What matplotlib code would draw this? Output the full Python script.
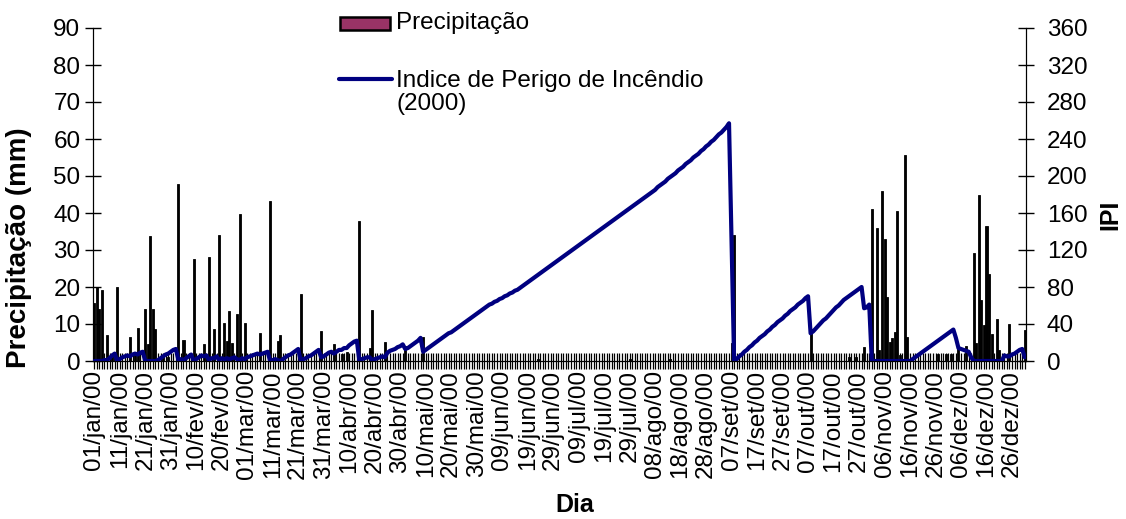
import matplotlib
matplotlib.use('Agg')
import matplotlib.pyplot as plt
from matplotlib.patches import Rectangle
from matplotlib.lines import Line2D
import numpy as np

plt.rcParams['font.family'] = ['Liberation Sans', 'DejaVu Sans']

# ---------------- data ----------------
tick_labels = ['01/jan/00', '11/jan/00', '21/jan/00', '31/jan/00', '10/fev/00', '20/fev/00',
               '01/mar/00', '11/mar/00', '21/mar/00', '31/mar/00', '10/abr/00', '20/abr/00',
               '30/abr/00', '10/mai/00', '20/mai/00', '30/mai/00', '09/jun/00', '19/jun/00',
               '29/jun/00', '09/jul/00', '19/jul/00', '29/jul/00', '08/ago/00', '18/ago/00',
               '28/ago/00', '07/set/00', '17/set/00', '27/set/00', '07/out/00', '17/out/00',
               '27/out/00', '06/nov/00', '16/nov/00', '26/nov/00', '06/dez/00', '16/dez/00',
               '26/dez/00']

# rainy days (day index from 01/jan/00) and precipitation (mm); other days = 0
rain_day = [0, 1, 2, 3, 5, 7, 8, 9, 14, 16, 17, 20, 21, 22, 23, 24, 27, 29, 33, 35,
            39, 43, 45, 47, 49, 51, 52, 53, 54, 56, 57, 59, 65, 69, 72, 73, 81, 89, 94, 97,
            99, 104, 108, 109, 114, 122, 129, 174, 210, 226, 250, 251, 281, 296, 299, 302,
            305, 307, 308, 309, 310, 311, 312, 313, 314, 315, 316, 318, 319, 331, 334, 336,
            339, 342, 345, 346, 347, 348, 349, 350, 351, 352, 354, 355, 359, 365]
rain_mm = [15.8, 20, 14, 19.2, 7, 2, 2, 20, 6.4, 2, 8.9, 14, 4.7, 33.8, 14, 8.6, 1, 1, 47.8, 5.7,
           27.6, 4.7, 28, 8.6, 34, 10.4, 5.5, 13.6, 5, 12.7, 39.7, 10.4, 7.5, 43.3, 5.5, 6.9, 18, 8.2, 4.5, 2,
           2.5, 37.9, 3.6, 13.8, 5.2, 3, 6.6, 0.5, 0.5, 0.5, 5, 34, 7.5, 1, 1, 3.7,
           41, 36, 3, 46, 33, 17.2, 5.2, 6.1, 7.9, 40.5, 1.5, 55.7, 6.6, 1.9, 1.9, 2,
           4, 4, 29.3, 5, 45, 16.5, 9.7, 36.5, 23.4, 7.4, 11.4, 2.9, 9.9, 8.4]

# Indice de Perigo de Incendio, one value per day
ipi = [0, 0, 0, 0, 1, 1, 3, 6, 8, 0,
       2, 4, 5, 6, 5, 7, 8, 7, 9, 10,
       0, 0, 0, 0, 0, 1, 3, 5, 7, 8,
       10, 12, 13, 1, 2, 1, 3, 5, 7, 0,
       2, 4, 6, 5, 6, 1, 3, 3, 5, 1,
       3, 2, 3, 2, 3, 4, 2, 1, 3, 2,
       4, 5, 6, 7, 8, 7, 8, 9, 10, 0,
       1, 2, 1, 0, 2, 4, 6, 7, 9, 11,
       13, 0, 2, 3, 5, 6, 8, 10, 12, 4,
       5, 7, 9, 10, 8, 10, 12, 12, 14, 14,
       17, 19, 21, 22, 0, 2, 3, 4, 4, 1,
       2, 3, 4, 5, 4, 9, 11, 12, 13, 15,
       16, 18, 13, 14, 16, 18, 20, 22, 25, 10,
       12, 14, 16, 18, 20, 22, 24, 26, 28, 30,
       31, 33, 35, 37, 39, 41, 43, 45, 47, 49,
       51, 53, 55, 57, 59, 61, 62, 64, 65, 67,
       68, 70, 71, 73, 74, 76, 77, 79, 81, 83,
       85, 87, 89, 91, 93, 95, 97, 99, 101, 103,
       105, 107, 109, 111, 113, 115, 117, 119, 121, 123,
       125, 127, 129, 131, 133, 135, 137, 139, 141, 143,
       145, 147, 149, 151, 153, 155, 157, 159, 161, 163,
       165, 167, 169, 171, 173, 175, 177, 179, 181, 183,
       185, 188, 190, 192, 194, 197, 199, 201, 203, 206,
       208, 210, 213, 215, 217, 220, 222, 224, 227, 229,
       232, 234, 237, 239, 242, 245, 247, 250, 253, 257,
       130, 0, 2, 5, 7, 10, 12, 15, 17, 20,
       22, 25, 27, 29, 32, 34, 37, 39, 42, 44,
       46, 49, 51, 54, 56, 58, 61, 63, 65, 68,
       70, 30, 32, 35, 38, 41, 44, 46, 49, 52,
       55, 58, 60, 63, 66, 68, 70, 72, 74, 76,
       78, 80, 57, 58, 61, 0, 0, 0, 0, 0,
       0, 0, 0, 0, 0, 0, 0, 0, 0, 0,
       0, 2, 4, 6, 8, 10, 12, 14, 16, 18,
       20, 22, 24, 26, 28, 30, 32, 34, 25, 14,
       13, 12, 11, 10, 4, 0, 0, 0, 0, 0,
       0, 0, 0, 0, 0, 0, 0, 6, 5, 5,
       7, 8, 10, 12, 13, 4]

# ---------------- figure ----------------
W, H = 1126, 519
n_days = len(ipi)
days = np.arange(n_days)
precip = np.zeros(n_days)
precip[rain_day] = rain_mm

fig = plt.figure(figsize=(W / 100, H / 100), dpi=100)
L, R, T, B = 93, 1026, 28, 361
ax = fig.add_axes([L / W, 1 - B / H, (R - L) / W, (B - T) / H])

ax.bar(days, precip, width=0.8, color='black', edgecolor='black', linewidth=0.6, zorder=2)
ax.set_xlim(-0.5, n_days - 0.5)
ax.set_ylim(0, 90)
ax.set_yticks(range(0, 91, 10))
ax.set_xticks(np.arange(0, n_days, 10))
ax.set_xticklabels(tick_labels, rotation=90)
ax.set_xticks(days, minor=True)
ax.tick_params(axis='x', which='both', direction='inout', length=11, width=0.9,
               labelsize=17.5, pad=1)
ax.tick_params(axis='y', direction='inout', length=12, width=1, labelsize=17.5, pad=3)
ax.spines['top'].set_visible(False)

ax2 = ax.twinx()
ax2.plot(days, ipi, color='#000080', lw=3.0, solid_joinstyle='round',
         solid_capstyle='round', zorder=3)
ax2.set_ylim(0, 360)
ax2.set_yticks(range(0, 361, 40))
ax2.tick_params(axis='y', direction='inout', length=12, width=1, labelsize=17.5, pad=9)
ax2.spines['top'].set_visible(False)

# axis titles
fig.text(19 / W, 1 - 248 / H, 'Precipitação (mm)', rotation=90, ha='center', va='center',
         fontsize=20, fontweight='bold')
fig.text(1110 / W, 1 - 215 / H, 'IPI', rotation=90, ha='center', va='center',
         fontsize=18, fontweight='bold')
fig.text(575 / W, 1 - 505 / H, 'Dia', ha='center', va='center',
         fontsize=18, fontweight='bold')

# legend (drawn manually to match the original placement)
fig.patches.append(Rectangle((340 / W, 1 - 30 / H), 50 / W, 13 / H, transform=fig.transFigure,
                             facecolor='#993366', edgecolor='black', linewidth=1.8))
fig.text(396 / W, 1 - 23 / H, 'Precipitação', ha='left', va='center', fontsize=17.5)
fig.lines.append(Line2D([339 / W, 392 / W], [1 - 79 / H, 1 - 79 / H], transform=fig.transFigure,
                        color='#000080', lw=3.0, solid_capstyle='round'))
fig.text(396 / W, 1 - 92.5 / H, 'Indice de Perigo de Incêndio\n(2000)', ha='left', va='center',
         fontsize=17.5, linespacing=1.05)

fig.savefig('out.png', dpi=100)
